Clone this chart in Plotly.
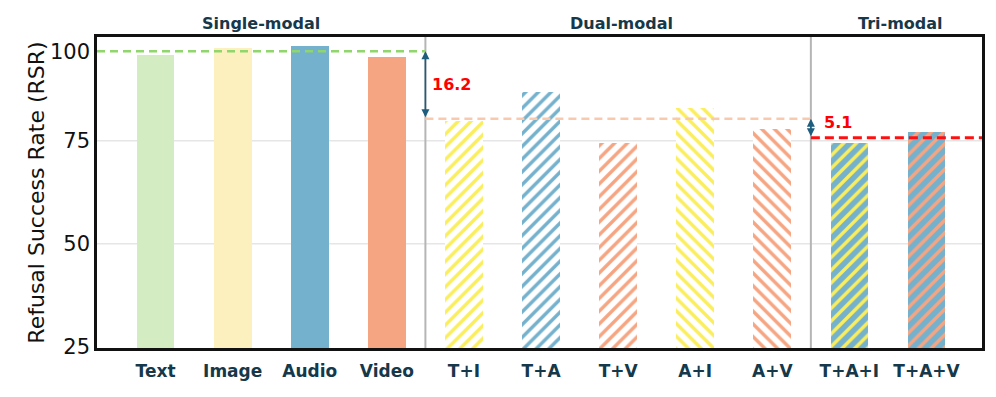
import plotly.graph_objects as go

# data
categories = ['Text', 'Image', 'Audio', 'Video', 'T+I', 'T+A', 'T+V', 'A+I', 'A+V', 'T+A+I', 'T+A+V']
single_vals = [95.9, 97.6, 98.1, 95.4]
dual_vals = [79.7, 86.8, 74.4, 83.0, 77.9]
tri_vals = [74.4, 77.1]
gap_labels = ['16.2', '5.1']
group_names = ['Single-modal', 'Dual-modal', 'Tri-modal']
ytick_vals = [25, 50, 75, 96.7]
ytick_text = ['25', '50', '75', '100']
grid_vals = [50, 75]

GREEN = '#d3ecc1'
PALE_YELLOW = '#fdf0bf'
BLUE = '#74b1cd'
SALMON = '#f6a582'
YELLOW = '#fbee5c'
NAVY = '#15384a'
ARROW = '#1e5d7e'

font_main = 'DejaVu Sans, sans-serif'

values = single_vals + dual_vals + tri_vals
xs = list(range(len(categories)))
single_avg = sum(single_vals) / len(single_vals)
dual_avg = sum(dual_vals) / len(dual_vals)
tri_avg = sum(tri_vals) / len(tri_vals)

# per-bar styling: (background, stripe colour, stripe shape)
styles = [
    (GREEN, None, ''),
    (PALE_YELLOW, None, ''),
    (BLUE, None, ''),
    (SALMON, None, ''),
    ('white', YELLOW, '/'),
    ('white', BLUE, '/'),
    ('white', SALMON, '/'),
    ('white', YELLOW, '\\'),
    ('white', SALMON, '\\'),
    (BLUE, YELLOW, '/'),
    (BLUE, SALMON, '/'),
]

x_lo, x_hi = -0.76, 10.72
y_lo, y_hi = 24.7, 100.2

fig = go.Figure()
for i, (x, v) in enumerate(zip(xs, values)):
    bg, fg, shape = styles[i]
    if shape:
        marker = dict(color=bg, line=dict(width=0),
                      pattern=dict(shape=shape, fgcolor=fg, bgcolor=bg,
                                   size=9, solidity=0.38, fillmode='replace'))
    else:
        marker = dict(color=bg, line=dict(width=0))
    fig.add_trace(go.Bar(x=[x], y=[v - y_lo], base=y_lo, width=0.49,
                         marker=marker, showlegend=False))

# light grid only at 50 and 75
for g in grid_vals:
    fig.add_shape(type='line', x0=0, x1=1, xref='paper', y0=g, y1=g, layer='below',
                  line=dict(color='#e6e6e6', width=1.5))

# group separators
for sx in [3.5, 8.5]:
    fig.add_shape(type='line', x0=sx, x1=sx, y0=0, y1=1, yref='paper',
                  line=dict(color='#b5b5b5', width=2))

# average lines
fig.add_shape(type='line', x0=x_lo, x1=3.5, y0=single_avg, y1=single_avg,
              line=dict(color='#8fd66c', width=2.5, dash='8px,5px'))
fig.add_shape(type='line', x0=3.5, x1=8.5, y0=dual_avg, y1=dual_avg,
              line=dict(color='#f9c9ae', width=2.5, dash='8px,5px'))
fig.add_shape(type='line', x0=8.5, x1=x_hi, y0=tri_avg, y1=tri_avg,
              line=dict(color='#ff1010', width=3, dash='9px,5px'))

# gap arrows
for sx, top, bot, lab, dx, dy in [(3.5, single_avg, dual_avg, gap_labels[0], 0.06, 0),
                                  (8.5, dual_avg, tri_avg, gap_labels[1], 0.14, 1.4)]:
    fig.add_annotation(x=sx, y=top, ax=sx, ay=bot, xref='x', yref='y', axref='x', ayref='y',
                       showarrow=True, arrowside='end+start', arrowhead=2, arrowsize=1.0,
                       arrowwidth=1.6, arrowcolor=ARROW, text='')
    fig.add_annotation(x=sx + dx, y=(top + bot) / 2 + dy, xref='x', yref='y',
                       text='<b>' + lab + '</b>', showarrow=False, xanchor='left',
                       font=dict(family=font_main, size=16, color='#ff0000'))

# group titles
for name, cx in zip(group_names, [(x_lo + 3.5) / 2, 6.05, (8.5 + x_hi) / 2 + 0.05]):
    fig.add_annotation(x=cx, y=1, xref='x', yref='paper', yanchor='bottom', yshift=2,
                       text='<b>' + name + '</b>', showarrow=False,
                       font=dict(family=font_main, size=16, color=NAVY))

# page body adds an 8px margin, so the figure is sized and offset for it
fig.update_layout(
    width=980, height=381,
    margin=dict(l=89, r=3, t=29, b=41),
    plot_bgcolor='white', paper_bgcolor='white',
    bargap=0,
    xaxis=dict(
        range=[x_lo, x_hi],
        tickmode='array', tickvals=xs, ticktext=['<b>' + c + '</b>' for c in categories],
        tickfont=dict(family=font_main, size=17, color=NAVY),
        ticklabelstandoff=6,
        showgrid=False, showline=True, mirror=True, linecolor='#111', linewidth=2.5,
        ticks='', zeroline=False,
    ),
    yaxis=dict(
        range=[y_lo, y_hi],
        tickmode='array', tickvals=ytick_vals, ticktext=ytick_text,
        tickfont=dict(family=font_main, size=21, color='#111'),
        showgrid=False,
        showline=True, mirror=True, linecolor='#111', linewidth=2.5,
        ticks='', zeroline=False,
        title=dict(text='Refusal Success Rate (RSR)', standoff=0,
                   font=dict(family=font_main, size=22, color='#111')),
    ),
)

fig.write_html('out.html')
